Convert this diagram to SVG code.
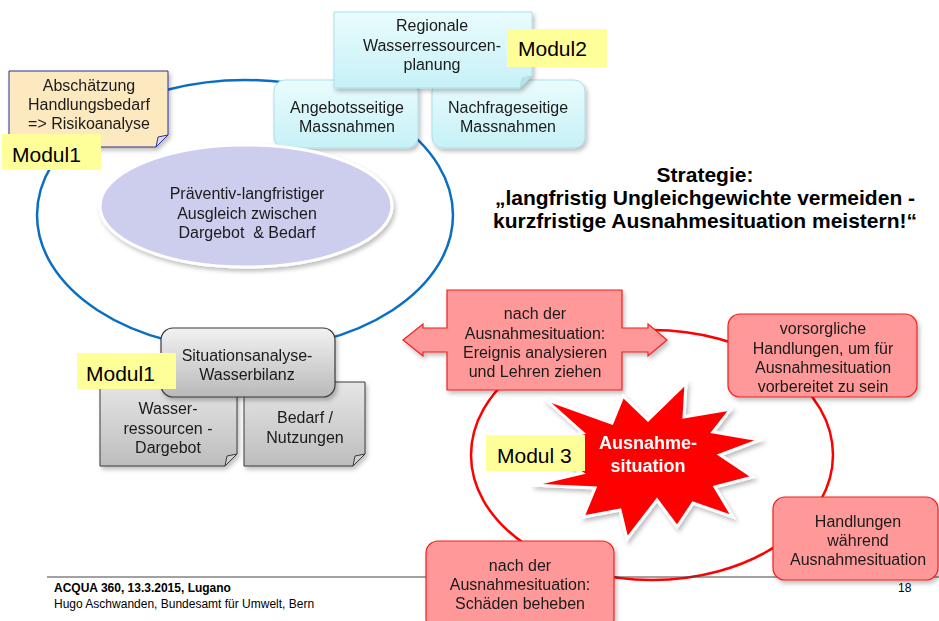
<svg xmlns="http://www.w3.org/2000/svg" width="939" height="621" viewBox="0 0 939 621">
<defs>
<linearGradient id="gCyan" x1="0" y1="0" x2="0" y2="1"><stop offset="0" stop-color="#eafcfd"/><stop offset="1" stop-color="#c6f1f7"/></linearGradient>
<linearGradient id="gGray" x1="0" y1="0" x2="0" y2="1"><stop offset="0" stop-color="#f2f2f2"/><stop offset="1" stop-color="#b9b9b9"/></linearGradient>
<linearGradient id="gGray2" x1="0" y1="0" x2="0" y2="1"><stop offset="0" stop-color="#e6e6e6"/><stop offset="1" stop-color="#bdbdbd"/></linearGradient>
<filter id="sh" x="-10%" y="-10%" width="125%" height="130%"><feDropShadow dx="2" dy="3" stdDeviation="2" flood-color="#000" flood-opacity="0.25"/></filter>
</defs>
<style>
text{font-family:"Liberation Sans",Arial,sans-serif;font-size:16px;fill:#1a1a1a;text-anchor:middle}
.mod{font-size:21px;text-anchor:start;fill:#000}
.lbl{fill:#ffff99}
.cyan{fill:url(#gCyan);stroke:#a9dfe8;stroke-width:1}
.gray{fill:url(#gGray);stroke:#3a3a3a;stroke-width:1.2}
.red{fill:#ff9999;stroke:#f02020;stroke-width:1.2}
.fold{fill:#d9d9ee;stroke:#2e3192;stroke-width:1}
.strat{font-size:21px;font-weight:bold;fill:#000}
.foot{font-size:12px;text-anchor:start;fill:#000}
.star{fill:#fff;font-size:18px;font-weight:bold}
</style>

<g id="connectors">
<ellipse cx="245" cy="215" rx="208" ry="135" fill="none" stroke="#0a6fc2" stroke-width="2.5"/>
<ellipse cx="652" cy="455" rx="181" ry="125" fill="none" stroke="#ff0000" stroke-width="2.5"/>
</g>

<g id="footer">
<line x1="47" y1="577" x2="939" y2="577" stroke="#444" stroke-width="1"/>
<text class="foot" x="54" y="592" font-weight="bold">ACQUA 360, 13.3.2015, Lugano</text>
<text class="foot" x="54" y="608">Hugo Aschwanden, Bundesamt für Umwelt, Bern</text>
<text class="foot" x="898" y="592">18</text>
</g>

<g id="abschaetzung" filter="url(#sh)">
<path d="M9,71 H168 V135 L156,147 H9 Z" fill="#fde9bf" stroke="#2e3192" stroke-width="1"/>
<path d="M168,135 L156,147 L158,137 Z" class="fold"/>
<text x="89" y="91">Abschätzung</text>
<text x="89" y="110">Handlungsbedarf</text>
<text x="89" y="129">=&gt; Risikoanalyse</text>
</g>
<g id="modul1a"><rect x="2" y="134" width="99" height="36" class="lbl"/><text class="mod" x="12" y="162">Modul1</text></g>

<g id="angebot" filter="url(#sh)">
<rect x="274" y="80" width="144" height="68" rx="11" class="cyan"/>
<text x="347" y="113">Angebotsseitige</text>
<text x="347" y="132">Massnahmen</text>
</g>
<g id="nachfrage" filter="url(#sh)">
<rect x="432" y="80" width="153" height="68" rx="11" class="cyan"/>
<text x="508" y="113">Nachfrageseitige</text>
<text x="508" y="132">Massnahmen</text>
</g>
<g id="regional" filter="url(#sh)">
<path d="M334,12 H532 V76 L520,88 H334 Z" class="cyan"/>
<path d="M532,76 L520,88 L522,78 Z" fill="#b7e3ea" stroke="#a9dfe8"/>
<text x="432" y="31">Regionale</text>
<text x="432" y="51">Wasserressourcen-</text>
<text x="432" y="70">planung</text>
</g>
<g id="modul2"><rect x="507" y="29" width="100" height="38" class="lbl"/><text class="mod" x="518" y="56">Modul2</text></g>

<g id="praeventiv" filter="url(#sh)">
<ellipse cx="246" cy="206" rx="146" ry="61" fill="#cdcdee" stroke="#ffffff" stroke-width="3"/>
<text x="247" y="199">Präventiv-langfristiger</text>
<text x="247" y="219">Ausgleich zwischen</text>
<text x="247" y="238">Dargebot &#160;&amp; Bedarf</text>
</g>

<g id="wasser" filter="url(#sh)">
<path d="M100,382 H237 V454 L225,466 H100 Z" fill="url(#gGray2)" stroke="#3a3a3a" stroke-width="1"/>
<path d="M237,454 L225,466 L227,456 Z" fill="#d0d0d0" stroke="#3a3a3a"/>
<text x="168" y="414">Wasser-</text>
<text x="168" y="434">ressourcen -</text>
<text x="168" y="453">Dargebot</text>
</g>
<g id="bedarf" filter="url(#sh)">
<path d="M244,382 H365 V454 L353,466 H244 Z" fill="url(#gGray2)" stroke="#3a3a3a" stroke-width="1"/>
<path d="M365,454 L353,466 L355,456 Z" fill="#d0d0d0" stroke="#3a3a3a"/>
<text x="305" y="423">Bedarf /</text>
<text x="305" y="443">Nutzungen</text>
</g>
<g id="situation" filter="url(#sh)">
<rect x="161" y="328" width="174" height="69" rx="12" class="gray"/>
<text x="247" y="361">Situationsanalyse-</text>
<text x="247" y="380">Wasserbilanz</text>
</g>
<g id="modul1b"><rect x="77" y="353" width="99" height="36" class="lbl"/><text class="mod" x="86" y="381">Modul1</text></g>

<g id="strategie">
<text class="strat" x="705" y="182">Strategie:</text>
<text class="strat" x="705" y="205">„langfristig Ungleichgewichte vermeiden -</text>
<text class="strat" x="705" y="228">kurzfristige Ausnahmesituation meistern!“</text>
</g>

<g id="nachAnalyse" filter="url(#sh)">
<path d="M403,340 L423,324 V328 H447 V290 H622 V328 H648 V324 L667,340 L648,356 V352 H622 V390 H447 V352 H423 V356 Z" class="red"/>
<text x="535" y="319">nach der</text>
<text x="535" y="339">Ausnahmesituation:</text>
<text x="535" y="358">Ereignis analysieren</text>
<text x="535" y="377">und Lehren ziehen</text>
</g>

<g id="vorsorge" filter="url(#sh)">
<rect x="728" y="314" width="189" height="83" rx="12" class="red"/>
<text x="823" y="334">vorsorgliche</text>
<text x="823" y="354">Handlungen, um für</text>
<text x="823" y="373">Ausnahmesituation</text>
<text x="823" y="392">vorbereitet zu sein</text>
</g>

<g id="ausnahme" filter="url(#sh)">
<polygon points="545,399 612,423 623,396 648,420 686,383 684,417 731,409 713,432 760,440 720,455 753,477 715,487 733,517 693,503 677,527 657,500 627,539 620,510 583,517 595,488 532,485 582,473 540,446 583,433" fill="#ff0000" stroke="#ffffff" stroke-width="3" stroke-linejoin="miter"/>
<text class="star" x="648" y="449">Ausnahme-</text>
<text class="star" x="648" y="472">situation</text>
</g>
<g id="modul3"><rect x="486" y="435" width="99" height="36" class="lbl"/><text class="mod" x="497" y="463">Modul 3</text></g>

<g id="waehrend" filter="url(#sh)">
<rect x="773" y="497" width="165" height="83" rx="12" class="red"/>
<text x="858" y="527">Handlungen</text>
<text x="858" y="546">während</text>
<text x="858" y="565">Ausnahmesituation</text>
</g>

<g id="schaeden" filter="url(#sh)">
<rect x="426" y="541" width="188" height="90" rx="12" class="red"/>
<text x="520" y="571">nach der</text>
<text x="520" y="590">Ausnahmesituation:</text>
<text x="520" y="609">Schäden beheben</text>
</g>
</svg>
